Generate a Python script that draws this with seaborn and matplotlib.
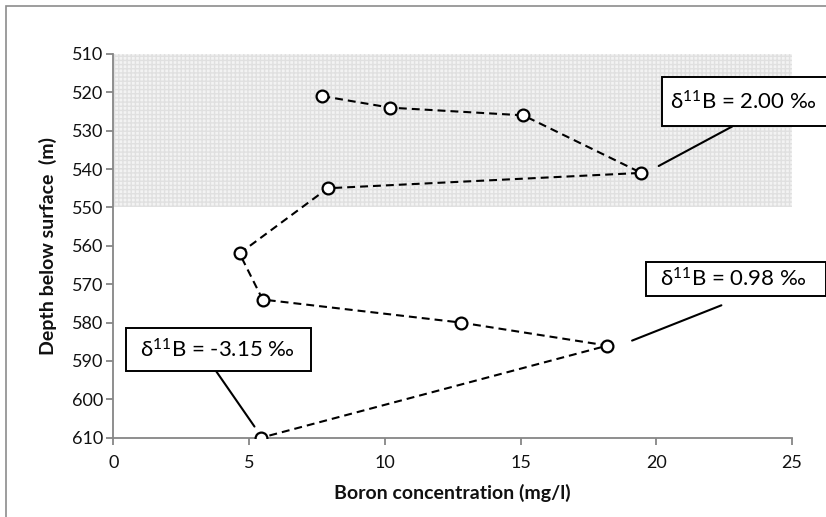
import matplotlib
matplotlib.use("Agg")
import matplotlib.pyplot as plt
import seaborn as sns
import pandas as pd
from matplotlib.patches import Rectangle

# ---- data ----
boron_mg_l = [7.7, 10.2, 15.1, 19.45, 7.9, 4.65, 5.5, 12.8, 18.2, 5.45]
depth_m = [521, 524, 526, 541, 545, 562, 574, 580, 586, 610]
x_ticks = [0, 5, 10, 15, 20, 25]
y_ticks = [510, 520, 530, 540, 550, 560, 570, 580, 590, 600, 610]
shade_depth = [510, 550]
labels = [r"δ$^{\mathrm{11}}$B = 2.00 ‰", r"δ$^{\mathrm{11}}$B = 0.98 ‰",
          r"δ$^{\mathrm{11}}$B = -3.15 ‰"]

df = pd.DataFrame({"boron": boron_mg_l, "depth": depth_m})

sns.set_theme(style="white")
plt.rcParams["font.family"] = ["Lato", "DejaVu Sans"]
plt.rcParams["mathtext.fontset"] = "custom"
plt.rcParams["mathtext.rm"] = "Lato"
plt.rcParams["mathtext.it"] = "Lato:italic"
plt.rcParams["mathtext.bf"] = "Lato:bold"

fig = plt.figure(figsize=(8.26, 5.17), dpi=100)
ax = fig.add_axes([0.1372, 0.1534, 0.9588 - 0.1372, 0.8957 - 0.1534])

# shaded depth band
ax.fill_between([0, 25], shade_depth[0], shade_depth[1], facecolor="#f3f3f3",
                edgecolor="#e0e0e0", hatch="++++", linewidth=0, zorder=0)

sns.lineplot(data=df, x="boron", y="depth", sort=False, ax=ax, color="black",
             linewidth=1.5, linestyle=(0, (3.8, 2.4)), marker="o",
             markersize=8.5, markerfacecolor="white", markeredgecolor="black",
             markeredgewidth=1.6, zorder=3)

ax.set_xlim(0, 25)
ax.set_ylim(610, 510)
ax.set_xticks(x_ticks)
ax.set_yticks(y_ticks)
ax.set_xticklabels([str(v) for v in x_ticks])
ax.set_yticklabels([str(v) for v in y_ticks])

for s in ["top", "right"]:
    ax.spines[s].set_visible(False)
for s in ["left", "bottom"]:
    ax.spines[s].set_color("#868686")
    ax.spines[s].set_linewidth(1.3)
ax.tick_params(axis="both", direction="out", length=5, width=1.3, color="#868686",
               labelsize=13, labelcolor="#111111", left=True, bottom=True)
ax.tick_params(axis="x", pad=7.5)
ax.tick_params(axis="y", pad=2)

ax.set_xlabel("Boron concentration (mg/l)", fontsize=14, fontweight="bold",
              labelpad=9, color="#111111")
ax.set_ylabel("Depth below surface  (m)", fontsize=14, fontweight="bold",
              labelpad=11, color="#111111")

# annotation boxes (data coordinates)
boxes = [
    # (x0, x1, y_top, y_bottom, text_x, text_y, leader start, leader end)
    (20.22, 26.6, 516.1, 528.7, 23.2, 522.4, (20.09, 539.2), (22.80, 528.9)),
    (19.63, 26.24, 564.3, 573.2, 22.85, 568.75, (19.11, 584.7), (22.40, 575.5)),
    (0.47, 7.28, 581.5, 592.6, 3.83, 587.0, (3.79, 592.7), (5.20, 607.1)),
]
for (x0, x1, yt, yb, tx, ty, p0, p1), lab in zip(boxes, labels):
    ax.add_patch(Rectangle((x0, yt), x1 - x0, yb - yt, facecolor="white",
                           edgecolor="black", linewidth=1.4, clip_on=False, zorder=5))
    ax.text(tx, ty, lab, ha="center", va="center", fontsize=16, color="black",
            zorder=6, clip_on=False)
    ax.plot([p0[0], p1[0]], [p0[1], p1[1]], color="black", linewidth=1.5,
            clip_on=False, zorder=4)

# figure border
fig.patches.append(Rectangle((6 / 826, -0.05), 1.1, 1 - 6 / 517 + 0.05,
                             transform=fig.transFigure, fill=False,
                             edgecolor="#8c8c8c", linewidth=1.2))

fig.savefig("out.png", dpi=100)
